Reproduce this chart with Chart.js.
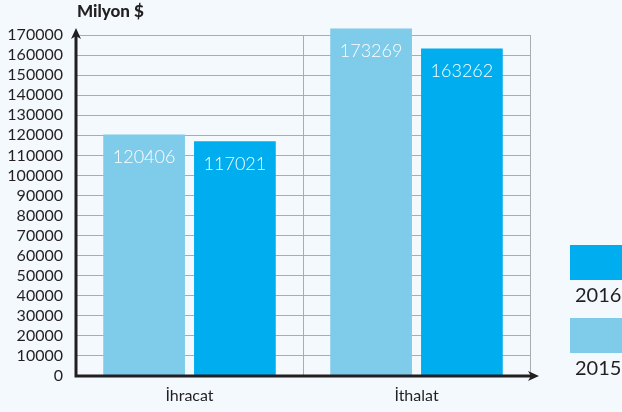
<!DOCTYPE html>
<html>
<head>
<meta charset="utf-8">
<script src="https://cdn.jsdelivr.net/npm/chart.js@4.4.1/dist/chart.umd.min.js"></script>
<style>
  html, body { margin: 0; padding: 0; background: #f3f9fd; }
  #wrap { width: 622px; height: 412px; position: relative; }
</style>
</head>
<body>
<div id="wrap"><canvas id="dis_ticaret"></canvas></div>
<script>
// --- veri ---
const kategoriler = ['İhracat', 'İthalat'];
const yillar = ['2015', '2016'];
const degerler2015 = [120406, 173269];
const degerler2016 = [117021, 163262];
const yEksenMaks = 170000;
const yEksenAdim = 10000;
const birimBasligi = 'Milyon $';

const renk2015 = '#7fcbea';
const renk2016 = '#00aeef';
const eksenRengi = '#231f20';
const fontAile = 'Lato, "Open Sans", sans-serif';

// ok uçlu eksenler, başlık, değer etiketleri ve sağdaki lejant
const ekstraCizim = {
    id: 'ekstraCizim',
    afterDatasetsDraw(chart) {
        const ctx = chart.ctx;
        const ca = chart.chartArea;
        ctx.save();

        // değer etiketleri (çubuk içinde, üstte)
        ctx.fillStyle = '#ffffff';
        ctx.font = '300 18px ' + fontAile;
        ctx.textAlign = 'center';
        ctx.textBaseline = 'middle';
        chart.data.datasets.forEach((ds, i) => {
            chart.getDatasetMeta(i).data.forEach((bar, j) => {
                ctx.fillText(String(ds.data[j]), bar.x, bar.y + 23);
            });
        });

        // eksenler
        ctx.strokeStyle = eksenRengi;
        ctx.fillStyle = eksenRengi;
        ctx.lineWidth = 3;
        ctx.beginPath();
        ctx.moveTo(ca.left, ca.bottom + 1.5);
        ctx.lineTo(ca.left, ca.top - 2);
        ctx.moveTo(ca.left - 1.5, ca.bottom);
        ctx.lineTo(ca.right + 2, ca.bottom);
        ctx.stroke();

        // y ok ucu
        ctx.beginPath();
        ctx.moveTo(ca.left, ca.top - 7);
        ctx.lineTo(ca.left - 5, ca.top + 4);
        ctx.lineTo(ca.left, ca.top + 1);
        ctx.lineTo(ca.left + 5, ca.top + 4);
        ctx.closePath();
        ctx.fill();

        // x ok ucu
        ctx.beginPath();
        ctx.moveTo(ca.right + 9, ca.bottom);
        ctx.lineTo(ca.right - 2, ca.bottom - 5);
        ctx.lineTo(ca.right + 1, ca.bottom);
        ctx.lineTo(ca.right - 2, ca.bottom + 5);
        ctx.closePath();
        ctx.fill();

        // birim başlığı
        ctx.font = '900 17px ' + fontAile;
        ctx.textAlign = 'left';
        ctx.textBaseline = 'middle';
        ctx.fillText(birimBasligi, ca.left + 1, 12);

        // lejant (2016 üstte)
        const lejant = chart.data.datasets.slice().reverse();
        ctx.font = '20px ' + fontAile;
        lejant.forEach((ds, k) => {
            const y0 = 245 + k * 73;
            ctx.fillStyle = ds.backgroundColor;
            ctx.fillRect(570, y0, 60, 35);
            ctx.fillStyle = eksenRengi;
            ctx.fillText(ds.label, 575, y0 + 51);
        });

        ctx.restore();
    }
};

new Chart(document.getElementById('dis_ticaret'), {
    type: 'bar',
    data: {
        labels: kategoriler,
        datasets: [
            {
                label: yillar[0],
                data: degerler2015,
                backgroundColor: renk2015,
                clip: false
            },
            {
                label: yillar[1],
                data: degerler2016,
                backgroundColor: renk2016,
                clip: false
            }
        ]
    },
    options: {
        responsive: true,
        maintainAspectRatio: false,
        animation: false,
        barPercentage: 0.9,
        categoryPercentage: 0.8,
        layout: {
            padding: { left: 0, top: 35, right: 92, bottom: 0 }
        },
        plugins: {
            legend: { display: false },
            tooltip: { enabled: false }
        },
        scales: {
            x: {
                grid: {
                    offset: true,
                    color: '#a9adb1',
                    lineWidth: 1,
                    drawTicks: false
                },
                border: { display: false },
                ticks: {
                    color: eksenRengi,
                    font: { family: fontAile, size: 16 },
                    padding: 10
                },
                afterFit(scale) { scale.height = 36; }
            },
            y: {
                min: 0,
                max: yEksenMaks,
                grid: {
                    color: '#a9adb1',
                    lineWidth: 1,
                    drawTicks: false
                },
                border: { display: false },
                ticks: {
                    stepSize: yEksenAdim,
                    autoSkip: false,
                    color: eksenRengi,
                    font: { family: fontAile, size: 16 },
                    padding: 13,
                    callback: (v) => String(v)
                },
                afterFit(scale) { scale.width = 76; }
            }
        }
    },
    plugins: [ekstraCizim]
});
</script>
</body>
</html>
